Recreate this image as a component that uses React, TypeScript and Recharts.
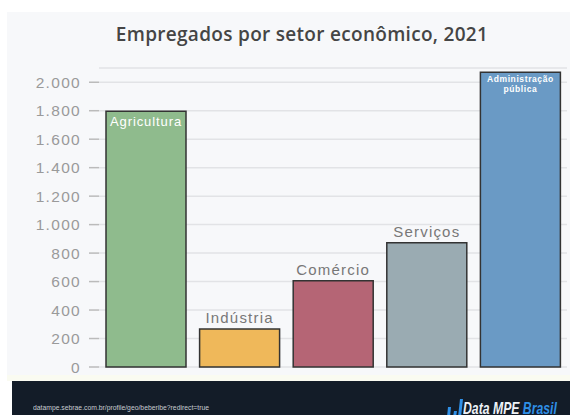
import React from 'react';
import { BarChart, Bar, XAxis, YAxis, CartesianGrid, Cell, LabelList } from 'recharts';

// dados
const setores = ['Agricultura', 'Indústria', 'Comércio', 'Serviços', 'Administração pública'];
const empregados = [1797, 267, 606, 872, 2070];
const yTicks = [0, 200, 400, 600, 800, 1000, 1200, 1400, 1600, 1800, 2000];

const COLORS = ['#8fbb8d', '#efb85a', '#b56575', '#9aabb2', '#6a9ac5'];

const data = setores.map((name, i) => ({ name, value: empregados[i] }));

const fmt = (v: number) => String(v).replace(/\B(?=(\d{3})+(?!\d))/g, '.');

const FONT = "'Liberation Sans', Arial, sans-serif";

const BarLabel = (props: any) => {
  const { x, y, width, index } = props;
  const name = setores[index];
  const cx = x + width / 2;
  if (index === 0) {
    return (
      <text x={cx} y={y + 15} textAnchor="middle" fill="#fff" fontSize={13} letterSpacing={0.9}
        fontFamily={FONT}>{name}</text>
    );
  }
  if (index === setores.length - 1) {
    const [a, b] = name.split(' ');
    return (
      <text textAnchor="middle" fill="#fff" fontSize={8.5} fontWeight="bold" letterSpacing={0.6}
        fontFamily={FONT}>
        <tspan x={cx} y={y + 10}>{a}</tspan>
        <tspan x={cx} y={y + 20}>{b}</tspan>
      </text>
    );
  }
  return (
    <text x={cx} y={y - 6} textAnchor="middle" fill="#777" fontSize={15} letterSpacing={1.2}
      fontFamily={FONT}>{name}</text>
  );
};

export default function App() {
  return (
    <div style={{ position: 'absolute', left: 0, top: 0, width: 570, height: 415, background: '#fff', overflow: 'hidden' }}>
      <div style={{ position: 'absolute', left: 7, top: 12, width: 563, height: 363, background: '#f7f8fa' }} />
      <div style={{ position: 'absolute', left: 7, top: 375, width: 563, height: 6, background: '#fafbf1' }} />
      <div style={{
        position: 'absolute', left: 7, top: 22, width: 590, textAlign: 'center',
        fontFamily: "'Open Sans', sans-serif", fontSize: 19, fontWeight: 600, color: '#454545', lineHeight: '24px',
        letterSpacing: 0.3,
      }}>
        Empregados por setor econômico, 2021
      </div>
      <div style={{ position: 'absolute', left: 0, top: 0 }}>
        <BarChart width={570} height={380} data={data} margin={{ top: 68, right: 3, bottom: 13, left: 0 }}>
          <CartesianGrid vertical={false} stroke="#e2e3e6" strokeWidth={1.5} />
          <XAxis dataKey="name" hide />
          <YAxis
            width={99}
            domain={[0, 2100]}
            ticks={yTicks}
            tickFormatter={fmt}
            axisLine={false}
            tickSize={10}
            tickMargin={8}
            tickLine={{ stroke: '#bbb', strokeWidth: 1.5 }}
            tick={{ fill: '#9a9a9a', fontSize: 15.5, letterSpacing: 1.3, fontFamily: FONT }}
          />
          <Bar dataKey="value" barSize={80} stroke="#333" strokeWidth={1.5} isAnimationActive={false}>
            {data.map((d, i) => (
              <Cell key={d.name} fill={COLORS[i]} />
            ))}
            <LabelList dataKey="value" content={BarLabel} />
          </Bar>
        </BarChart>
      </div>
      <div style={{ position: 'absolute', left: 12, top: 381, width: 558, height: 34, background: '#131c28', overflow: 'hidden' }}>
        <div style={{
          position: 'absolute', left: 21, top: 22, fontFamily: FONT, whiteSpace: 'nowrap',
          fontSize: 8, lineHeight: '10px', color: '#c8ccd2', transform: 'scaleX(0.85)', transformOrigin: 'left top',
        }}>
          datampe.sebrae.com.br/profile/geo/beberibe?redirect=true
        </div>
        <svg width={18} height={20} style={{ position: 'absolute', left: 434, top: 16 }}>
          <polygon points="2,10 5,10 4,20 1,20" fill="#2f8fe6" />
          <polygon points="8,14 11,14 10,20 7,20" fill="#2f8fe6" />
          <polygon points="14,2 17,2 15,20 12,20" fill="#2f8fe6" />
        </svg>
        <div style={{
          position: 'absolute', left: 451, top: 19, whiteSpace: 'nowrap',
          fontFamily: FONT, fontStyle: 'italic', fontWeight: 'bold',
          fontSize: 17, lineHeight: '17px', color: '#eef2f7', transform: 'scaleX(0.72)', transformOrigin: 'left top',
        }}>
          Data MPE <span style={{ color: '#2f8fe6' }}>Brasil</span>
        </div>
      </div>
    </div>
  );
}
